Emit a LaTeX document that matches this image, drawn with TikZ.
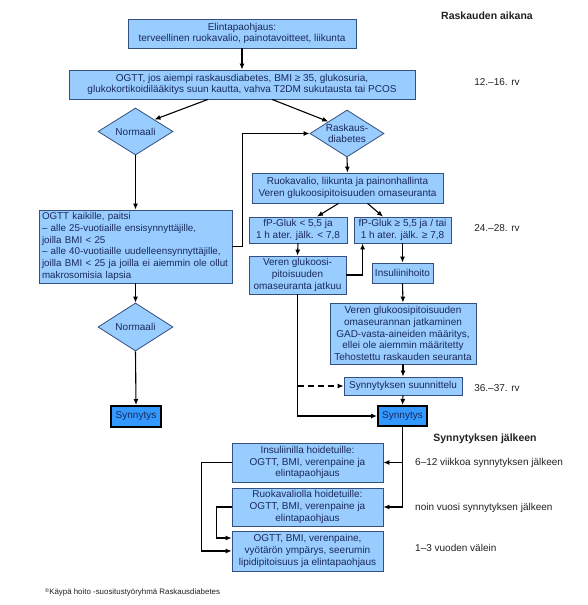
\documentclass[tikz,border=0pt]{standalone}
\usepackage{fontspec}
\setmainfont{Liberation Sans}
\usetikzlibrary{shapes.geometric,arrows.meta,calc}
\definecolor{boxc}{HTML}{99CCFF}
\definecolor{bordc}{HTML}{33507F}
\definecolor{txtc}{HTML}{1A2A5A}
\definecolor{sync}{HTML}{3399FF}
\definecolor{labc}{HTML}{222222}
\begin{document}
\begin{tikzpicture}[x=1pt,y=-1pt,
  box/.style={draw=bordc, fill=boxc, line width=0.8pt, inner sep=0pt, align=center,
    font=\fontsize{10}{11.8}\selectfont, text=txtc},
  dia/.style={diamond, draw=bordc, fill=boxc, line width=0.8pt, inner sep=0pt},
  dtxt/.style={align=center, font=\fontsize{10}{11.8}\selectfont, text=txtc, inner sep=0pt},
  syn/.style={draw=black, fill=sync, line width=2pt, inner sep=0pt,
    font=\fontsize{10}{11.8}\selectfont, text=txtc},
  lab/.style={font=\fontsize{10}{12}\selectfont, text=labc, inner sep=0pt},
  hd/.style={font=\fontsize{10.5}{12}\selectfont\bfseries, text=labc, inner sep=0pt},
  fnote/.style={font=\fontsize{7.9}{9}\selectfont, text=labc, inner sep=0pt},
  arr/.style={-{Latex[length=6pt,width=5pt]}, line width=1.1pt, draw=black},
  ln/.style={line width=1.1pt, draw=black}
]
\useasboundingbox (0,0) rectangle (588,605);
\fill[white] (0,0) rectangle (588,605);

% --- nodes ---
\node[box, minimum width=228pt, minimum height=29pt] (b1) at (242,33.5)
  {Elintapaohjaus:\\terveellinen ruokavalio, painotavoitteet, liikunta};
\node[box, minimum width=346pt, minimum height=29pt] (b2) at (242,84.5)
  {OGTT, jos aiempi raskausdiabetes, BMI ≥ 35, glukosuria,\\glukokortikoidilääkitys suun kautta, vahva T2DM sukutausta tai PCOS};
\node[dia, minimum width=75pt, minimum height=47pt] (n1) at (135.5,131.5) {};
\node[dtxt] (n1t) at (n1) {Normaali};
\node[dia, minimum width=74pt, minimum height=47pt] (rd) at (347,133.5) {};
\node[dtxt] (rdt) at (rd) {Raskaus-\\diabetes};
\node[box, minimum width=191pt, minimum height=30pt] (b3) at (347.5,188)
  {Ruokavalio, liikunta ja painonhallinta\\Veren glukoosipitoisuuden omaseuranta};
\node[box, minimum width=98pt, minimum height=26pt] (fl) at (298,230)
  {fP-Gluk < 5,5 ja\\1 h ater. jälk. < 7,8};
\node[box, minimum width=97pt, minimum height=26pt] (fr) at (402.5,230)
  {fP-Gluk ≥ 5,5 ja / tai\\1 h ater. jälk. ≥ 7,8};
\node[box, align=left, inner xsep=3pt, text width=187pt, minimum height=73pt,
  font=\fontsize{9.8}{11.8}\selectfont] (ok) at (135.5,246.5)
  {OGTT kaikille, paitsi\\– alle 25-vuotiaille ensisynnyttäjille,\\joilla BMI < 25\\– alle 40-vuotiaille uudelleensynnyttäjille,\\joilla BMI < 25 ja joilla ei aiemmin ole ollut\\makrosomisia lapsia};
\node[box, minimum width=97pt, minimum height=38pt] (vg) at (297.5,275)
  {Veren glukoosi-\\pitoisuuden\\omaseuranta jatkuu};
\node[box, minimum width=61pt, minimum height=20pt] (ins) at (402.5,273) {Insuliinihoito};
\node[box, minimum width=146pt, minimum height=61pt] (big) at (403,333.5)
  {Veren glukoosipitoisuuden\\omaseurannan jatkaminen\\GAD-vasta-aineiden määritys,\\ellei ole aiemmin määritetty\\Tehostettu raskauden seuranta};
\node[dia, minimum width=75pt, minimum height=48pt] (n2) at (135.5,327) {};
\node[dtxt] (n2t) at (n2) {Normaali};
\node[box, minimum width=118pt, minimum height=18pt] (sun) at (403,386) {Synnytyksen suunnittelu};
\node[syn, minimum width=50pt, minimum height=21pt] (sl) at (136,416.5) {Synnytys};
\node[syn, minimum width=49pt, minimum height=20pt] (sr) at (402.5,416) {Synnytys};
\node[box, minimum width=151pt, minimum height=39pt] (ib) at (307.5,462.5)
  {Insuliinilla hoidetuille:\\OGTT, BMI, verenpaine ja\\elintapaohjaus};
\node[box, minimum width=151pt, minimum height=38pt] (rb) at (307.5,507)
  {Ruokavaliolla hoidetuille:\\OGTT, BMI, verenpaine ja\\elintapaohjaus};
\node[box, minimum width=151pt, minimum height=40pt] (bb) at (307.5,551)
  {OGTT, BMI, verenpaine,\\vyötärön ympärys, seerumin\\lipidipitoisuus ja elintapaohjaus};

% --- side labels ---
\node[hd] (t1) at (487,16) {Raskauden aikana};
\node[lab] (l1) at (497,82) {12.–16. rv};
\node[lab] (l2) at (497,228) {24.–28. rv};
\node[lab] (l3) at (497,388) {36.–37. rv};
\node[hd] (t2) at (485,439) {Synnytyksen jälkeen};
\node[lab, anchor=west] (l4) at (415,463) {6–12 viikkoa synnytyksen jälkeen};
\node[lab, anchor=west] (l5) at (415,508) {noin vuosi synnytyksen jälkeen};
\node[lab, anchor=west] (l6) at (415,548) {1–3 vuoden välein};
\node[fnote, anchor=west] (fn) at (45,592) {\raisebox{0.5ex}{\fontsize{5.5}{6}\selectfont ©}Käypä hoito -suositustyöryhmä Raskausdiabetes};

% --- connectors ---
\draw[arr] (b1.south) -- (b2.north);
\draw[arr] ($(b2.south)+(-34,0)$) -- (n1.north east);
\draw[arr] ($(b2.south)+(30,0)$) -- (rd.north west);
\draw[arr] (n1.south) -- (ok.north);
\draw[arr] (ok.east) -- ++(10,0) |- (rd.west);
\draw[arr] (rd.south) -- (b3.north);
\draw[arr] ($(b3.south)+(-9,0)$) -- ($(fl.north)+(19,0)$);
\draw[arr] ($(b3.south)+(20,0)$) -- ($(fr.north)+(-19.5,0)$);
\draw[arr] (fl.south) -- (vg.north);
\draw[arr] (vg.east) -| ($(fr.south west)+(9,0)$);
\draw[arr] (fr.south) -- (ins.north);
\draw[arr] (ins.south) -- (big.north);
\draw[arr] (big.south) -- (sun.north);
\draw[arr] (sun.south) -- (sr.north);
\draw[arr] (vg.south) |- (sr.west);
\draw[arr, dash pattern=on 6pt off 4pt] (vg.south |- sun.west) -- (sun.west);
\draw[arr] (ok.south) -- (n2.north);
\draw[arr] (n2.south) -- (sl.north);
\draw[arr] (sr.south) |- (rb.east);
\draw[arr] (sr.south |- ib.east) -- (ib.east);
\draw[arr] (ib.west) -- ++(-30,0) |- (bb.west);
\draw[arr] (rb.west) -- ++(-15,0) |- ($(bb.west)+(0,-13)$);
\end{tikzpicture}
\end{document}
